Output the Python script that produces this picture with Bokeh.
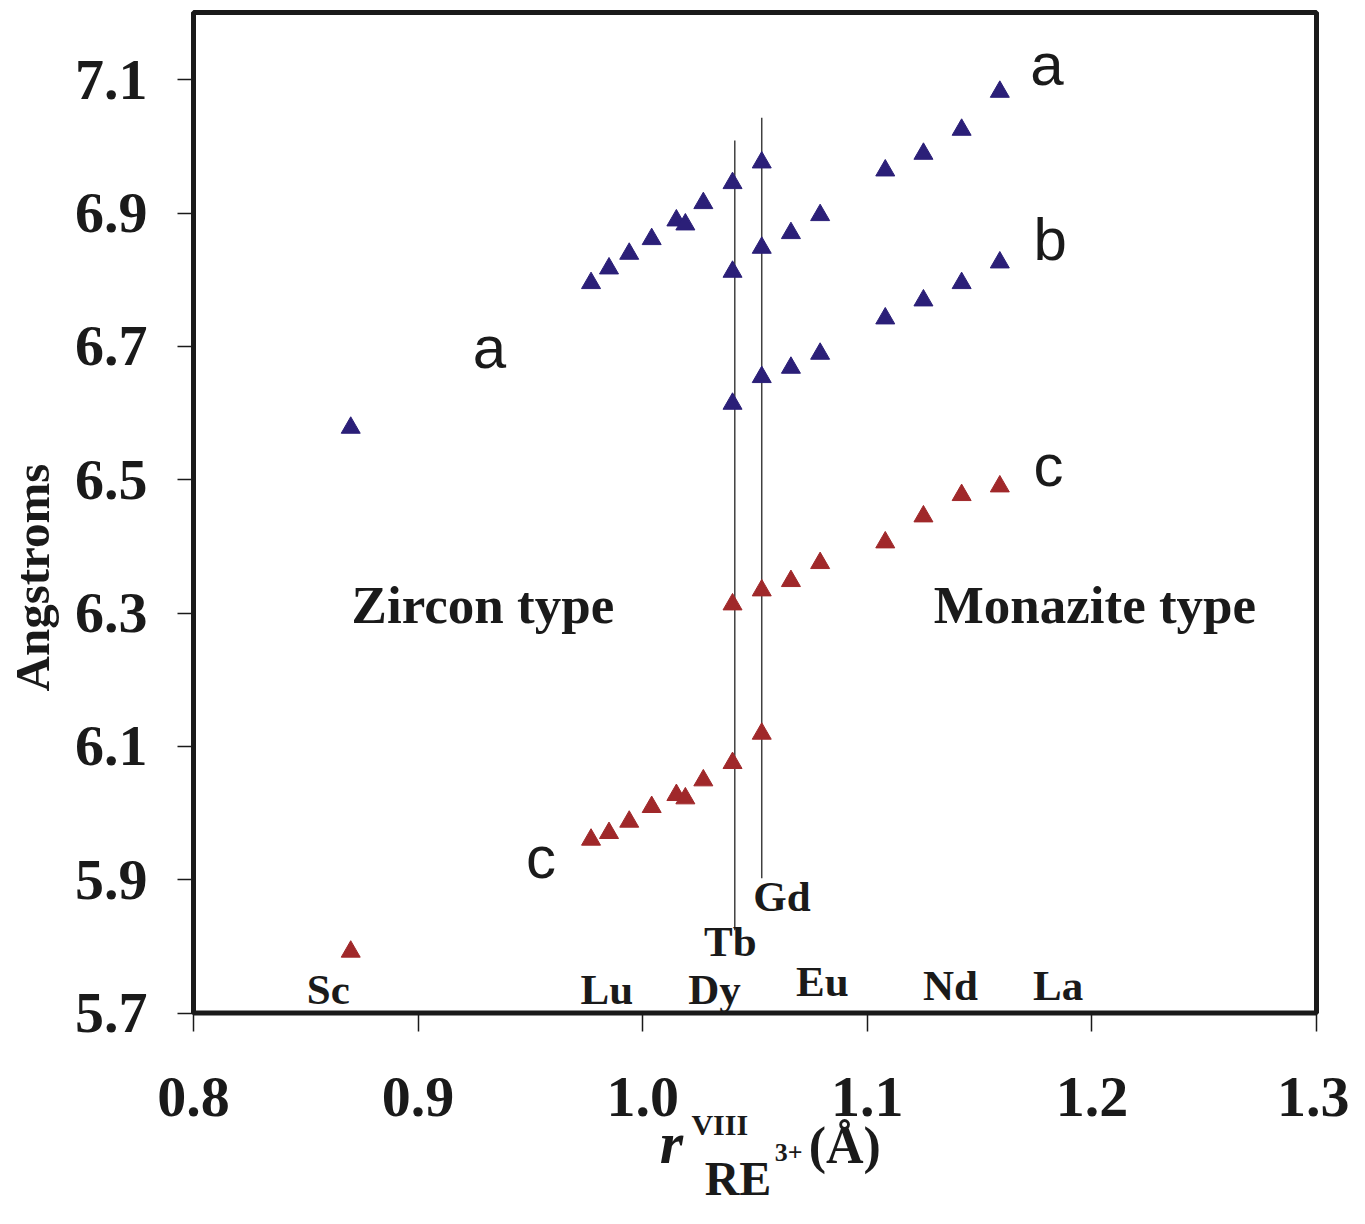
import math
from bokeh.plotting import figure
from bokeh.models import Label, FixedTicker, Range1d, BoxAnnotation
from bokeh.embed import file_html
from bokeh.resources import INLINE

# ---- data (ionic radius r_VIII of RE3+, Angstrom) ----
r_zircon = [0.870, 0.977, 0.985, 0.994, 1.004, 1.015, 1.019, 1.027, 1.040, 1.053]
a_zircon = [6.578, 6.795, 6.817, 6.839, 6.861, 6.889, 6.883, 6.915, 6.945, 6.976]
c_zircon = [5.792, 5.960, 5.970, 5.987, 6.009, 6.027, 6.022, 6.049, 6.075, 6.119]

r_monazite = [1.040, 1.053, 1.066, 1.079, 1.108, 1.125, 1.142, 1.159]
a_monazite = [6.812, 6.848, 6.870, 6.897, 6.964, 6.989, 7.025, 7.082]
b_monazite = [6.614, 6.654, 6.668, 6.689, 6.742, 6.769, 6.795, 6.826]
c_monazite = [6.313, 6.334, 6.348, 6.375, 6.406, 6.445, 6.477, 6.490]

# dimorphic boundary lines (Tb, Gd)
boundary_r = [1.041, 1.053]
boundary_y0 = [5.824, 5.902]
boundary_y1 = [7.009, 7.043]

# element labels
elem_names = ["Sc", "Lu", "Dy", "Tb", "Gd", "Eu", "Nd", "La"]
elem_x = [0.860, 0.984, 1.032, 1.039, 1.062, 1.080, 1.137, 1.185]
elem_y = [5.736, 5.736, 5.736, 5.808, 5.875, 5.748, 5.742, 5.741]

x_ticks = [0.8, 0.9, 1.0, 1.1, 1.2, 1.3]
y_ticks = [5.7, 5.9, 6.1, 6.3, 6.5, 6.7, 6.9, 7.1]

BLUE = "#2b1f78"
RED = "#a0282a"
INK = "#1a1a1a"
SERIF = "Liberation Serif"
SANS = "Liberation Sans"

W, H = 1349, 1208
p = figure(width=W, height=H, min_border=0,
           x_range=Range1d(0.714070, 0.714070 + W / 2246.0),
           y_range=Range1d(5.7 - 195.5 / 666.57, 5.7 + 1012.5 / 666.57),
           output_backend="svg", toolbar_location=None)

p.background_fill_color = "white"
p.border_fill_color = "white"
p.outline_line_color = None
p.xgrid.visible = False
p.ygrid.visible = False

for ax in (p.xaxis[0], p.yaxis[0]):
    ax.axis_line_color = None
    ax.minor_tick_line_color = None
    ax.major_tick_in = 0
    ax.major_tick_line_color = INK
    ax.major_tick_line_width = 1.5
    ax.major_label_text_font = SERIF
    ax.major_label_text_font_style = "bold"
    ax.major_label_text_font_size = "58px"
    ax.major_label_text_color = INK

p.xaxis.fixed_location = 5.7
p.yaxis.fixed_location = 0.8
p.xaxis.bounds = (0.8, 1.3)
p.yaxis.bounds = (5.7, 7.1)
p.xaxis.ticker = FixedTicker(ticks=x_ticks)
p.yaxis.ticker = FixedTicker(ticks=y_ticks)
p.xaxis.major_label_overrides = {t: f"{t:.1f}" for t in x_ticks}
p.yaxis.major_label_overrides = {t: f"{t:.1f}" for t in y_ticks}
p.xaxis.major_tick_out = 18
p.xaxis.major_label_standoff = 47
p.yaxis.major_tick_out = 16
p.yaxis.major_label_standoff = 30

# plot box
p.add_layout(BoxAnnotation(left=0.8, right=1.3, bottom=5.7, top=7.201,
                           fill_alpha=0, line_color=INK, line_alpha=1.0, line_width=5))

# boundary lines
for bx, by0, by1 in zip(boundary_r, boundary_y0, boundary_y1):
    p.line([bx, bx], [by0, by1], line_color="#404040", line_width=1.5)

# markers
p.scatter(r_zircon, a_zircon, marker="triangle", size=19, color=BLUE)
p.scatter(r_zircon, c_zircon, marker="triangle", size=19, color=RED)
p.scatter(r_monazite, a_monazite, marker="triangle", size=19, color=BLUE)
p.scatter(r_monazite, b_monazite, marker="triangle", size=19, color=BLUE)
p.scatter(r_monazite, c_monazite, marker="triangle", size=19, color=RED)

def lab(x, y, text, size, font=SERIF, style="bold", align="left", baseline="alphabetic", angle=0):
    p.add_layout(Label(x=x, y=y, text=text, text_font=font, text_font_style=style,
                       text_font_size=size, text_color=INK, text_align=align,
                       text_baseline=baseline, angle=angle))

for n, x, y in zip(elem_names, elem_x, elem_y):
    lab(x, y, n, "43px", align="center")

lab(0.8704, 6.3115, "Zircon type", "53px")
lab(1.1296, 6.3115, "Monazite type", "53px")

lab(1.1725, 7.1227, "a", "60px", font=SANS, style="normal")
lab(1.1740, 6.8601, "b", "60px", font=SANS, style="normal")
lab(1.1740, 6.5211, "c", "60px", font=SANS, style="normal")
lab(0.9243, 6.6981, "a", "60px", font=SANS, style="normal")
lab(0.9480, 5.9330, "c", "60px", font=SANS, style="normal")

# axis titles
lab(0.7285, 6.3533, "Angstroms", "49px", align="center", baseline="middle", angle=math.pi / 2)
lab(1.0076, 5.5054, "r", "60px", style="bold italic")
lab(1.0217, 5.5333, "VIII", "30px")
lab(1.0276, 5.4520, "RE", "48px")
lab(1.0588, 5.4906, "3+", "26px")
lab(1.0739, 5.5009, "(Å)", "52px")

open("out.html", "w").write(file_html(p, INLINE))
